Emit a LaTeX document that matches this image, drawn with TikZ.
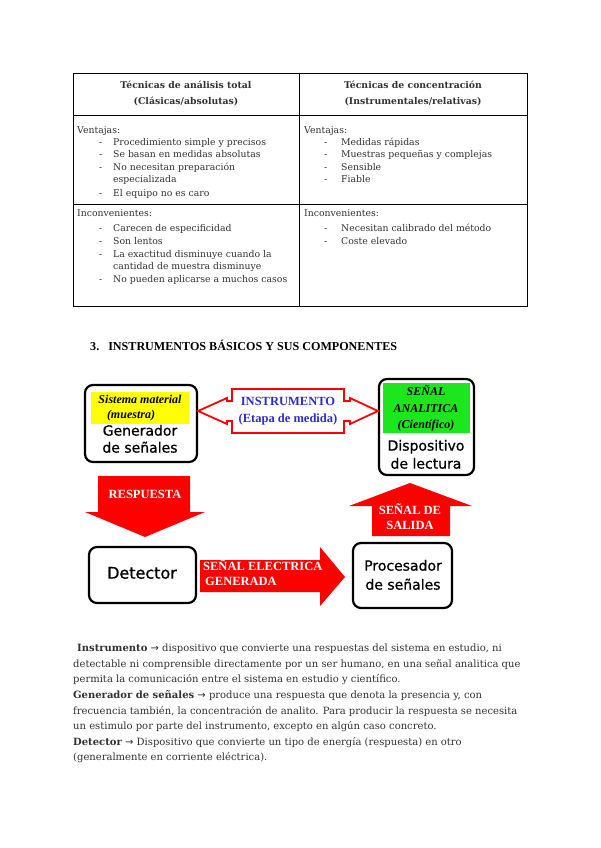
\documentclass[tikz,border=0pt]{standalone}
\usepackage{fontspec}
\setmainfont{DejaVu Serif}
\newfontfamily\timesfont{Liberation Serif}
\newfontfamily\comicfont{DejaVu Sans}[FakeBold=0.8]
\newfontfamily\flechafont{DejaVu Sans}
\newcommand\flecha{{\flechafont\char"2192}}
\definecolor{rojo}{RGB}{255,0,0}
\definecolor{amarillo}{RGB}{255,255,0}
\definecolor{verde}{RGB}{30,230,30}
\definecolor{azul}{RGB}{45,45,205}
\definecolor{tinta}{RGB}{50,50,50}

\begin{document}
\begin{tikzpicture}[x=1pt, y=-1pt,
    every node/.style={inner sep=0pt, text=tinta, font=\fontsize{9.3}{11}\selectfont},
    celda/.style={anchor=mid west},
    cabecera/.style={anchor=mid, font=\fontsize{9.3}{11}\selectfont\bfseries},
    caja/.style={draw=black, line width=2.2pt, rounded corners=8pt, fill=white},
    bloque/.style={fill=rojo},
    comic/.style={anchor=mid, text=black, font=\comicfont\fontsize{14}{16}\selectfont},
    rotulo/.style={anchor=mid, text=black, font=\timesfont\bfseries\itshape\fontsize{12}{14}\selectfont},
    blanco/.style={text=white, font=\timesfont\bfseries\fontsize{12.5}{14}\selectfont},
    parrafo/.style={anchor=mid west, font=\fontsize{10}{12}\selectfont}]
    \fill[white] (0,0) rectangle (600,848);
    \useasboundingbox (0,0) rectangle (600,848);
    % tabla
    \draw[black, line width=0.8pt] (73,73) rectangle (527,306);
    \draw[black, line width=0.8pt] (299,73) -- (299,306);
    \draw[black, line width=0.8pt] (73,115) -- (527,115) (73,204) -- (527,204);
    \node[cabecera] (totalA) at (186,86) {Técnicas de análisis total};
    \node[cabecera] (totalB) at (186,102) {(Clásicas/absolutas)};
    \node[cabecera] (concA) at (413,86) {Técnicas de concentración};
    \node[cabecera] (concB) at (413,102) {(Instrumentales/relativas)};
    \node[celda] (ventajasA) at (77,131) {Ventajas:};
    \node[celda] (ventajasB) at (304,131) {Ventajas:};
    \node[celda] (inconvA) at (77,214) {Inconvenientes:};
    \node[celda] (inconvB) at (304,214) {Inconvenientes:};
    \foreach \y/\texto [count=\k] in {143/Procedimiento simple y precisos, 155/Se basan en medidas absolutas,
        167.5/No necesitan preparación, 193.5/El equipo no es caro,
        229/Carecen de especificidad, 242/Son lentos,
        255/La exactitud disminuye cuando la, 280/No pueden aplicarse a muchos casos}{
        \node[celda] (guionA\k) at (99,\y) {-};
        \node[celda] (itemA\k) at (113,\y) {\texto};
    }
    \node[celda] (itemA9) at (113,180) {especializada};
    \node[celda] (itemA10) at (113,267) {cantidad de muestra disminuye};
    \foreach \y/\texto [count=\k] in {143/Medidas rápidas, 155/Muestras pequeñas y complejas,
        167.5/Sensible, 180/Fiable, 229/Necesitan calibrado del método, 242/Coste elevado}{
        \node[celda] (guionB\k) at (324,\y) {-};
        \node[celda] (itemB\k) at (341,\y) {\texto};
    }
    % esquema
    \node[anchor=mid west, text=black, font=\timesfont\bfseries\fontsize{12.1}{14}\selectfont] (seccion)
        at (90,348) {3.\hspace{9pt}INSTRUMENTOS BÁSICOS Y SUS COMPONENTES};
    \node[caja, minimum width=112, minimum height=77] (generador) at (141,423.5) {};
    \node[caja, minimum width=95, minimum height=96] (dispositivo) at (426.5,427) {};
    \node[caja, minimum width=107, minimum height=56] (detector) at (142.5,575) {};
    \node[caja, minimum width=99, minimum height=65] (procesador) at (402.5,575.5) {};
    \fill[amarillo] (91,392) rectangle (189,424);
    \fill[verde] (383,383) rectangle (470,433);
    \node[rotulo] (sistema) at (140,401) {Sistema material};
    \node[rotulo] (muestra) at (131,416) {(muestra)};
    \node[comic] (gen1) at (140,433) {Generador};
    \node[comic] (gen2) at (140,450) {de señales};
    \node[rotulo] (senal) at (426,393) {SEÑAL};
    \node[rotulo] (analitica) at (426,410) {ANALITICA};
    \node[rotulo] (cientifico) at (426,426) {(Científico)};
    \node[comic] (disp1) at (426,448) {Dispositivo};
    \node[comic] (disp2) at (426,466) {de lectura};
    \node[comic, font=\comicfont\fontsize{16}{18}\selectfont] (det) at (142,576) {Detector};
    \node[comic] (proc1) at (403,568) {Procesador};
    \node[comic] (proc2) at (403,587) {de señales};
    \draw[rojo, line width=1.8pt, fill=white] (232,389) -- (344,389) -- (344,401) -- (350,401) -- (350,398)
        -- (378,411) -- (350,424) -- (350,421) -- (344,421) -- (344,433) -- (232,433) -- (232,421)
        -- (227,421) -- (227,424) -- (198,411) -- (227,398) -- (227,401) -- (232,401) -- cycle;
    \node[anchor=mid, text=azul, font=\timesfont\bfseries\fontsize{12.5}{14}\selectfont] (instr1) at (288,403) {INSTRUMENTO};
    \node[anchor=mid, text=azul, font=\timesfont\bfseries\fontsize{12.5}{14}\selectfont] (instr2) at (288,420) {(Etapa de medida)};
    \fill[bloque] (98,476) -- (190,476) -- (190,512) -- (205,512) -- (145,537) -- (85,512) -- (98,512) -- cycle;
    \fill[bloque] (200,560) -- (320,560) -- (320,547) -- (345,577) -- (320,606) -- (320,592) -- (200,592) -- cycle;
    \fill[bloque] (372,536) -- (372,506) -- (349,506) -- (410,483) -- (472,506) -- (450,506) -- (450,536) -- cycle;
    \node[blanco, anchor=mid] (respuesta) at (145,496) {RESPUESTA};
    \node[blanco, anchor=mid west] (electrica) at (203,568) {SEÑAL ELECTRICA};
    \node[blanco, anchor=mid west] (generada) at (205,583) {GENERADA};
    \node[blanco, anchor=mid] (salida1) at (410,512) {SEÑAL DE};
    \node[blanco, anchor=mid] (salida2) at (410,527) {SALIDA};
    % texto
    \foreach \linea [count=\i from 0] in {{\hspace{4pt}\textbf{Instrumento} \flecha{} dispositivo que convierte una respuestas del sistema en estudio, ni},
        {detectable ni comprensible directamente por un ser humano, en una señal analitica que},
        {permita la comunicación entre el sistema en estudio y científico.},
        {\textbf{Generador de señales} \flecha{} produce una respuesta que denota la presencia y, con},
        {frecuencia también, la concentración de analito. Para producir la respuesta se necesita},
        {un estimulo por parte del instrumento, excepto en algún caso concreto.},
        {\textbf{Detector} \flecha{} Dispositivo que convierte un tipo de energía (respuesta) en otro},
        {(generalmente en corriente eléctrica).}}{
        \node[parrafo] (linea\i) at (73,649+15.6*\i) {\linea};
    }
\end{tikzpicture}
\end{document}
